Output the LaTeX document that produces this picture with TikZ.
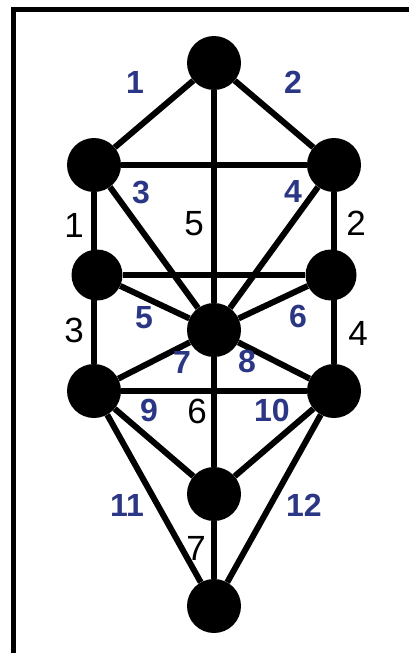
\documentclass[tikz,border=0pt]{standalone}
\usepackage{fontspec}
\setmainfont{Liberation Sans}
\usepackage{tikz}
\usetikzlibrary{positioning}
\definecolor{pathblue}{HTML}{2B3784}
\definecolor{treeink}{HTML}{000000}

\begin{document}
\begin{tikzpicture}[x=1pt,y=-1pt,
    sefira/.style={circle,fill=treeink,minimum size=54pt,inner sep=0pt},
    link/.style={draw=treeink,line width=6pt},
    bluenum/.style={inner sep=0pt,font=\fontsize{32}{36}\selectfont\bfseries\color{pathblue}},
    inknum/.style={inner sep=0pt,font=\fontsize{35}{40}\selectfont\color{treeink}}]
      \useasboundingbox (0,0) rectangle (409,653);
      \fill[white] (0,0) rectangle (409,653);
      % frame
      \draw[treeink,line width=5pt] (13.5,653) -- (13.5,9.5) -- (409,9.5);
      % sefirot
      \node[sefira] (keter) at (214,63) {};
      \node[sefira] (binah) at (94,165) {};
      \node[sefira] (chokmah) at (334,165) {};
      \node[sefira,minimum size=51pt] (gevurah) at (97,275) {};
      \node[sefira,minimum size=51pt] (chesed) at (331,275) {};
      \node[sefira] (tiferet) at (214,330) {};
      \node[sefira] (hod) at (94,391) {};
      \node[sefira] (netzach) at (334,391) {};
      \node[sefira] (yesod) at (214,494) {};
      \node[sefira] (malkuth) at (214,606) {};
      % paths
      \draw[link] (keter) -- (binah);
      \draw[link] (keter) -- (chokmah);
      \draw[link] (keter) -- (tiferet);
      \draw[link] (binah) -- (chokmah);
      \draw[link] (binah) -- (hod);
      \draw[link] (chokmah) -- (netzach);
      \draw[link] (binah) -- (tiferet);
      \draw[link] (chokmah) -- (tiferet);
      \draw[link] (gevurah) -- (chesed);
      \draw[link] (gevurah) -- (tiferet);
      \draw[link] (chesed) -- (tiferet);
      \draw[link] (hod) -- (tiferet);
      \draw[link] (netzach) -- (tiferet);
      \draw[link] (hod) -- (netzach);
      \draw[link] (tiferet) -- (yesod);
      \draw[link] (hod) -- (yesod);
      \draw[link] (netzach) -- (yesod);
      \draw[link] (yesod) -- (malkuth);
      \draw[link] (hod) -- (malkuth);
      \draw[link] (netzach) -- (malkuth);
      % blue numbers
      \node[bluenum] (b1) at (135,82) {1};
      \node[bluenum] (b2) at (293,82) {2};
      \node[bluenum] (b3) at (141,193) {3};
      \node[bluenum] (b4) at (293,191) {4};
      \node[bluenum] (b5) at (144,318) {5};
      \node[bluenum] (b6) at (298,316) {6};
      \node[bluenum] (b7) at (182,362) {7};
      \node[bluenum] (b8) at (247,361) {8};
      \node[bluenum] (b9) at (149,410) {9};
      \node[bluenum] (b10) at (272,410) {10};
      \node[bluenum] (b11) at (127,505) {11};
      \node[bluenum] (b12) at (304,505) {12};
      % black numbers
      \node[inknum] (k1) at (74,225) {1};
      \node[inknum] (k5) at (194,224) {5};
      \node[inknum] (k2) at (356,223) {2};
      \node[inknum] (k3) at (74,330) {3};
      \node[inknum] (k4) at (358,333) {4};
      \node[inknum] (k6) at (197,411) {6};
      \node[inknum] (k7) at (196,548) {7};
    \end{tikzpicture}
\end{document}
